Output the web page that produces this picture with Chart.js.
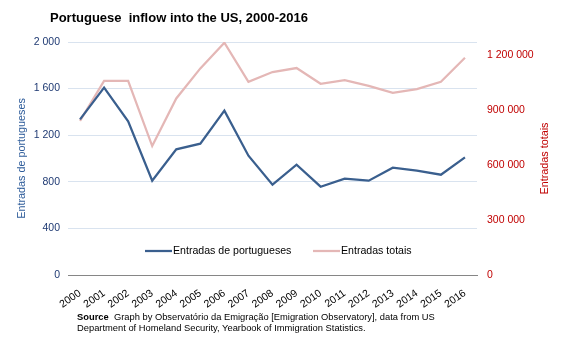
<!DOCTYPE html>
<html>
<head>
<meta charset="utf-8">
<script src="https://cdn.jsdelivr.net/npm/chart.js@4"></script>
<style>
  html, body { margin: 0; padding: 0; background: #fff; }
  #wrap { position: relative; width: 567px; height: 342px; overflow: hidden; }
  #chart { position: absolute; left: 0; top: 0; }
  #title {
    position: absolute; left: 50px; top: 10px;
    font: bold 13px/16px "Liberation Sans", Arial, sans-serif;
    color: #000; white-space: pre;
  }
  #source {
    position: absolute; left: 77px; top: 312px;
    font: 9.35px/11px "Liberation Sans", Arial, sans-serif;
    color: #000;
  }
</style>
</head>
<body>
<div id="wrap">
  <canvas id="chart" width="567" height="342"></canvas>
  <div id="title">Portuguese  inflow into the US, 2000-2016</div>
  <div id="source"><b>Source</b>&nbsp; Graph by Observatório da Emigração [Emigration Observatory], data from US<br>Department of Homeland Security, Yearbook of Immigration Statistics.</div>
</div>
<script>
// Fiscal years shown on the horizontal axis
const years = ['2000', '2001', '2002', '2003', '2004', '2005', '2006', '2007', '2008',
               '2009', '2010', '2011', '2012', '2013', '2014', '2015', '2016'];

// Portuguese nationals obtaining residence (left axis)
const portugueseEntries = [1336, 1608, 1320, 810, 1079, 1127, 1411, 1024, 775,
                           947, 758, 827, 810, 921, 895, 861, 1010];

// All new residents (right axis)
const totalEntries = [841000, 1059000, 1059000, 703500, 963000, 1127000, 1267000, 1054000, 1107000,
                      1129000, 1043000, 1063000, 1032000, 994000, 1014000, 1054000, 1185000];

const leftTicks = [0, 400, 800, 1200, 1600, 2000];
const rightTicks = [0, 300000, 600000, 900000, 1200000];

const FONT = '"Liberation Sans", Arial, sans-serif';
const BLUE = '#3A5F8E';
const PINK = '#E4B7B6';
const RED = '#C00000';
const RIGHT_TITLE = 'Entradas totais';

const spaced = n => String(n).replace(/\B(?=(\d{3})+(?!\d))/g, ' ');

// Legend drawn inside the plot area, near its bottom edge
const innerLegend = {
  id: 'innerLegend',
  afterDatasetsDraw(chart) {
    const { ctx, chartArea } = chart;
    const y = chartArea.bottom - 24;
    const starts = [chartArea.left + 77, chartArea.left + 245];
    ctx.save();
    ctx.font = '10.6px ' + FONT;
    ctx.textBaseline = 'middle';
    chart.data.datasets.forEach((ds, i) => {
      const x = starts[i];
      ctx.strokeStyle = ds.borderColor;
      ctx.lineWidth = 2.25;
      ctx.beginPath();
      ctx.moveTo(x, y);
      ctx.lineTo(x + 27, y);
      ctx.stroke();
      ctx.fillStyle = '#000';
      ctx.fillText(ds.label, x + 28, y + 0.5);
    });
    ctx.restore();
  }
};

// Right-axis title, reading bottom to top like the left one
const rightAxisTitle = {
  id: 'rightAxisTitle',
  afterDraw(chart) {
    const { ctx, chartArea } = chart;
    const s = chart.scales.y1;
    ctx.save();
    ctx.translate(s.right - 22, (chartArea.top + chartArea.bottom) / 2);
    ctx.rotate(-Math.PI / 2);
    ctx.font = '10.8px ' + FONT;
    ctx.fillStyle = RED;
    ctx.textAlign = 'center';
    ctx.textBaseline = 'middle';
    ctx.fillText(RIGHT_TITLE, 0, 0);
    ctx.restore();
  }
};

new Chart(document.getElementById('chart'), {
  type: 'line',
  data: {
    labels: years,
    datasets: [
      {
        label: 'Entradas de portugueses',
        data: portugueseEntries,
        yAxisID: 'y',
        borderColor: BLUE,
        backgroundColor: BLUE,
        borderWidth: 2.25,
        pointRadius: 0,
        tension: 0,
        order: 1
      },
      {
        label: RIGHT_TITLE,
        data: totalEntries,
        yAxisID: 'y1',
        borderColor: PINK,
        backgroundColor: PINK,
        borderWidth: 2.25,
        pointRadius: 0,
        tension: 0,
        order: 2
      }
    ]
  },
  options: {
    responsive: false,
    animation: false,
    layout: { padding: { top: 42, left: 0, right: 0, bottom: 0 } },
    plugins: {
      legend: { display: false },
      tooltip: { enabled: false },
      title: { display: false }
    },
    scales: {
      x: {
        offset: true,
        grid: { display: false },
        border: { display: true, color: '#868686', width: 1 },
        ticks: {
          autoSkip: false,
          minRotation: 35,
          maxRotation: 35,
          padding: 4,
          color: '#000',
          font: { family: FONT, size: 10.5 }
        },
        afterFit(s) { s.height = 67; }
      },
      y: {
        position: 'left',
        min: 0,
        max: 2000,
        afterBuildTicks(s) { s.ticks = leftTicks.map(v => ({ value: v })); },
        grid: {
          drawTicks: false,
          color: c => (c.tick && c.tick.value === 0) ? 'rgba(0,0,0,0)' : '#D9E3EF',
          lineWidth: 1
        },
        border: { display: false },
        ticks: {
          padding: 8,
          color: '#1F3A73',
          font: { family: FONT, size: 10.5 },
          callback: v => spaced(v)
        },
        title: {
          display: true,
          text: 'Entradas de portugueses',
          color: '#2E5C9A',
          font: { family: FONT, size: 10.8 },
          padding: { top: 16, bottom: 0 }
        },
        afterFit(s) { s.width = 68; }
      },
      y1: {
        position: 'right',
        min: 0,
        max: 1271000,
        afterBuildTicks(s) { s.ticks = rightTicks.map(v => ({ value: v })); },
        grid: { display: false, drawTicks: false },
        border: { display: false },
        ticks: {
          padding: 10,
          color: RED,
          font: { family: FONT, size: 10.5 },
          callback: v => spaced(v)
        },
        afterFit(s) { s.width = 90; }
      }
    }
  },
  plugins: [innerLegend, rightAxisTitle]
});
</script>
</body>
</html>
